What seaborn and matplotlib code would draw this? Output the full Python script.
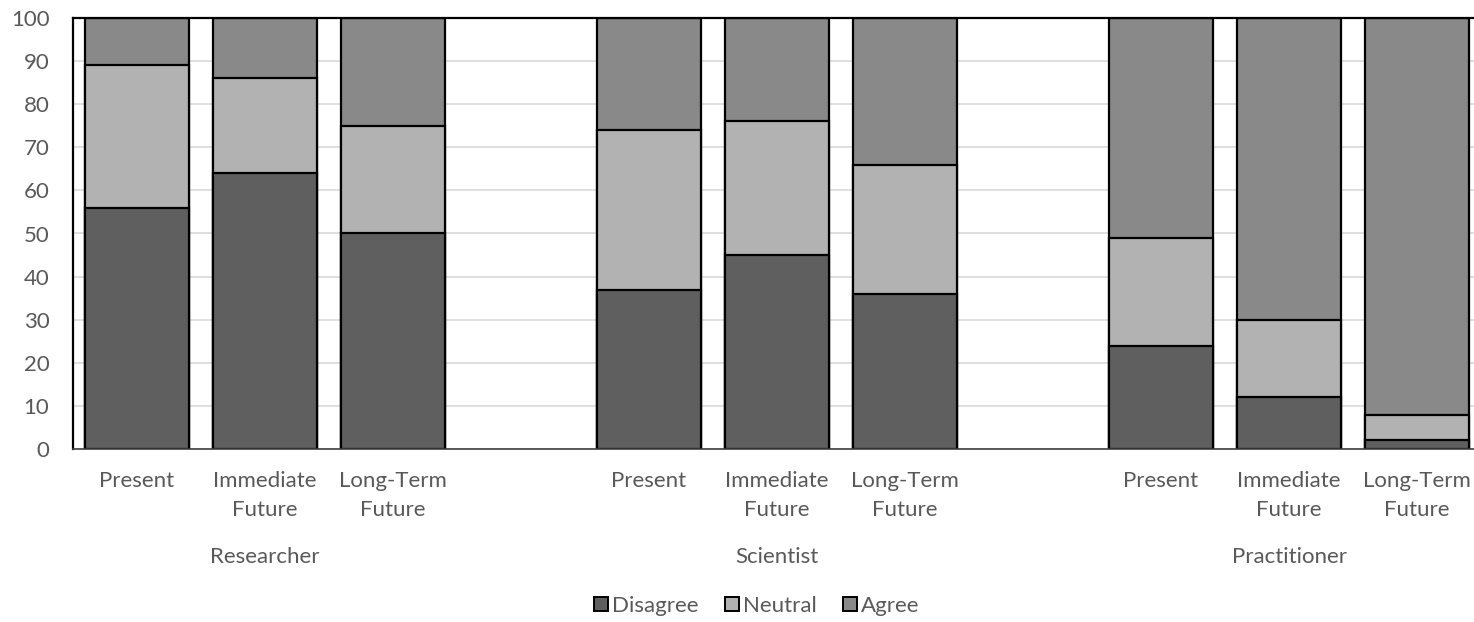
import pandas as pd
import seaborn as sns
import matplotlib.pyplot as plt
from matplotlib.patches import Patch
from matplotlib.transforms import blended_transform_factory

groups = ["Researcher", "Scientist", "Practitioner"]
periods = ["Present", "Immediate\nFuture", "Long-Term\nFuture"]

disagree = [56, 64, 50, 37, 45, 36, 24, 12, 2]
neutral = [33, 22, 25, 37, 31, 30, 25, 18, 6]
agree = [11, 14, 25, 26, 24, 34, 51, 70, 92]

colors = {"Disagree": "#5f5f5f", "Neutral": "#b2b2b2", "Agree": "#898989"}

rows = []
for gi, g in enumerate(groups):
    for pi, p in enumerate(periods):
        k = gi * 3 + pi
        rows.append({"group": g, "period": p, "slot": gi * 4 + pi,
                     "Disagree": disagree[k], "Neutral": neutral[k], "Agree": agree[k]})
df = pd.DataFrame(rows)
df["top_n"] = df["Disagree"] + df["Neutral"]
df["top_a"] = df["top_n"] + df["Agree"]

sns.set_theme(style="white")
plt.rcParams["font.family"] = ["Lato", "DejaVu Sans"]
fs = 16

fig = plt.figure(figsize=(14.74, 6.22), dpi=100)
ax = fig.add_axes([73 / 1474, (622 - 449) / 622, 1536 / 1474, (449 - 18) / 622])
ax.yaxis.grid(True, color="#d9d9d9", linewidth=1.2)
ax.set_axisbelow(True)

# draw cumulative heights back to front so they stack
for col, name in [("top_a", "Agree"), ("top_n", "Neutral"), ("Disagree", "Disagree")]:
    sns.barplot(data=df, x="slot", y=col, native_scale=True, width=0.8125,
                color=colors[name], edgecolor="black", linewidth=1.6,
                saturation=1, errorbar=None, ax=ax)

ax.set_xlim(-0.5, 11.5)
ax.set_ylim(0, 100)
ax.set_yticks(range(0, 101, 10))
ax.set_xticks(df["slot"])
ax.set_xticklabels(df["period"], linespacing=1.55)
ax.tick_params(axis="both", length=0, labelsize=fs, labelcolor="#595959")
ax.tick_params(axis="x", pad=16)
ax.tick_params(axis="y", pad=17)
ax.set_xlabel("")
ax.set_ylabel("")

for side in ["top", "left"]:
    ax.spines[side].set_color("black")
    ax.spines[side].set_linewidth(1.6)
ax.spines["bottom"].set_color("#404040")
ax.spines["bottom"].set_linewidth(1.2)
ax.spines["right"].set_visible(False)

trans = blended_transform_factory(ax.transData, ax.transAxes)
for gi, g in enumerate(groups):
    ax.text(gi * 4 + 1, -(557 - 449) / 431, g, transform=trans, ha="center", va="center",
            fontsize=fs, color="#595959")

handles = [Patch(facecolor=colors[n], edgecolor="black", linewidth=1.4, label=n)
           for n in ["Disagree", "Neutral", "Agree"]]
fig.legend(handles=handles, loc="center", bbox_to_anchor=(757 / 1474, 1 - 606 / 622),
           ncol=3, frameon=False, fontsize=fs, handlelength=0.6, handleheight=0.6,
           handletextpad=0.2, columnspacing=1.2, labelcolor="#595959")

fig.savefig("out.png", dpi=100)
